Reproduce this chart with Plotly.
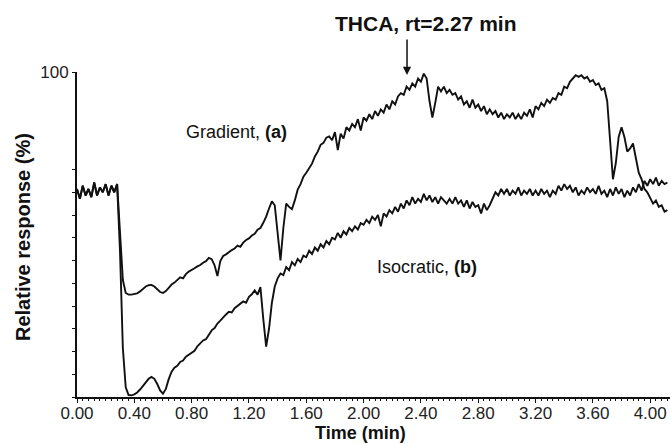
import numpy as np
import plotly.graph_objects as go

# Sampling step of the traces (min)
STEP = 0.02

# Gradient elution trace (a), relative response (%), one value every 0.02 min from 0.00
gradient_resp = [
    64, 61, 65, 62, 64, 61.5, 66, 62, 64.5, 63,                  # 0.00-0.18
    65.5, 62, 65, 63, 65.5, 50, 36, 32, 31.5, 31.5,              # 0.20-0.38
    31.6, 31.9, 32.5, 33.3, 34.0, 34.4, 34.5, 34.0, 33.1, 32.3,  # 0.40-0.58
    32.0, 32.6, 33.6, 34.6, 35.2, 35.9, 36.8, 36.5, 37.8, 38.6,  # 0.60-0.78
    39.0, 39.6, 40.2, 40.6, 41.3, 41.8, 42.8, 42.4, 40.5, 37.2,  # 0.80-0.98
    41.8, 43.4, 43.9, 44.6, 45.2, 45.7, 46.6, 46.2, 47.5, 48.3,  # 1.00-1.18
    48.8, 49.7, 50.2, 51.5, 52.0, 53.6, 55.5, 58.0, 60.2, 59.0,  # 1.20-1.38
    50.0, 42.0, 52.0, 59.5, 58.5, 57.8, 60.5, 63.8, 65.5, 67.8,  # 1.40-1.58
    69.0, 70.5, 71.8, 74.0, 75.5, 77.6, 78.2, 79.8, 80.2, 79.0,  # 1.60-1.78
    81.5, 76.0, 81.0, 79.5, 83.0, 82.0, 84.0, 83.0, 85.5, 82.0,  # 1.80-1.98
    86.0, 85.0, 87.0, 85.5, 88.0, 86.5, 88.5, 87.5, 90.0, 88.5,  # 2.00-2.18
    91.0, 90.0, 92.5, 93.5, 93.0, 95.5, 94.5, 96.5, 95.5, 98.0,  # 2.20-2.38
    97.0, 99.5, 98.0, 91.0, 86.0, 90.5, 95.5, 94.0, 95.5, 93.5,  # 2.40-2.58
    94.5, 93.0, 93.5, 91.5, 92.5, 90.0, 91.0, 89.0, 91.5, 89.0,  # 2.60-2.78
    90.0, 88.0, 89.5, 87.0, 88.5, 87.0, 88.0, 86.0, 87.5, 85.5,  # 2.80-2.98
    87.0, 86.0, 87.5, 85.5, 87.0, 85.5, 87.5, 86.5, 88.5, 86.0,  # 3.00-3.18
    89.5, 88.5, 90.5, 89.5, 91.5, 90.5, 92.0, 91.5, 93.5, 93.0,  # 3.20-3.38
    95.5, 95.0, 97.0, 98.0, 99.0, 98.5, 99.0, 98.0, 98.5, 97.0,  # 3.40-3.58
    97.5, 96.0, 96.5, 94.5, 95.0, 91.0, 80.0, 67.0, 72.0, 80.0,  # 3.60-3.78
    83.0, 80.0, 75.5, 76.5, 78.0, 73.0, 69.0, 67.0, 64.0, 63.0,  # 3.80-3.98
    61.0, 59.5, 60.5, 58.5, 59.0, 57.0, 57.5,                    # 4.00-4.12
]

# Isocratic elution trace (b), relative response (%), same sampling
isocratic_resp = [
    64, 61, 65, 62, 64, 61.5, 66, 62, 64.5, 63,                  # 0.00-0.18
    65.5, 62, 65, 63, 65.5, 45, 15, 3, 0.6, 0.5,                 # 0.20-0.38
    0.8, 1.4, 2.3, 3.4, 4.6, 5.6, 6.2, 5.6, 4.0, 2.0,            # 0.40-0.58
    1.0, 2.5, 5.5, 7.8, 9.0, 9.6, 10.8, 11.2, 12.4, 13.0,        # 0.60-0.78
    13.8, 14.2, 15.6, 16.5, 17.4, 17.8, 19.2, 20.5, 21.2, 22.6,  # 0.80-0.98
    23.5, 24.6, 25.4, 26.2, 26.0, 27.3, 28.0, 28.8, 29.4, 29.0,  # 1.00-1.18
    30.8, 31.6, 32.8, 31.5, 33.8, 24.0, 15.5, 21.0, 29.0, 34.0,  # 1.20-1.38
    36.5, 38.0, 37.5, 40.0, 39.0, 41.5, 40.5, 42.5, 41.5, 43.5,  # 1.40-1.58
    43.0, 45.0, 44.0, 46.0, 45.0, 47.0, 46.0, 48.0, 47.0, 49.0,  # 1.60-1.78
    48.5, 50.5, 49.0, 51.0, 50.0, 52.0, 51.0, 52.5, 51.5, 53.5,  # 1.80-1.98
    53.0, 54.5, 53.5, 55.5, 54.5, 56.0, 52.5, 56.5, 55.5, 57.5,  # 2.00-2.18
    56.5, 58.5, 57.0, 59.5, 58.0, 60.5, 59.0, 61.5, 59.5, 61.0,  # 2.20-2.38
    60.0, 62.5, 60.5, 62.0, 60.0, 61.5, 59.5, 61.5, 60.5, 59.5,  # 2.40-2.58
    61.0, 59.5, 61.5, 59.5, 60.5, 58.5, 60.5, 58.0, 60.0, 58.5,  # 2.60-2.78
    59.0, 56.5, 59.5, 57.5, 59.0, 61.0, 63.0, 62.0, 64.0, 62.5,  # 2.80-2.98
    64.0, 62.0, 63.5, 62.5, 64.5, 62.0, 63.5, 62.5, 64.0, 62.0,  # 3.00-3.18
    63.5, 62.0, 64.0, 62.5, 63.5, 61.5, 63.5, 62.5, 65.0, 63.5,  # 3.20-3.38
    65.5, 64.0, 65.0, 63.0, 64.5, 62.0, 63.5, 62.5, 64.5, 63.0,  # 3.40-3.58
    64.0, 62.5, 65.0, 62.5, 63.5, 61.5, 64.0, 62.0, 64.5, 62.5,  # 3.60-3.78
    64.0, 61.5, 63.5, 62.0, 64.5, 63.0, 65.5, 63.5, 66.5, 65.0,  # 3.80-3.98
    67.0, 65.5, 67.5, 65.0, 66.5, 65.5, 66.0,                    # 4.00-4.12
]

time_grad = np.round(np.arange(len(gradient_resp)) * STEP, 2)
time_iso = np.round(np.arange(len(isocratic_resp)) * STEP, 2)

x_tick_vals = [0.0, 0.4, 0.8, 1.2, 1.6, 2.0, 2.4, 2.8, 3.2, 3.6, 4.0]
x_tick_text = ["0.00", "0.40", "0.80", "1.20", "1.60", "2.00", "2.40", "2.80", "3.20", "3.60", "4.00"]
y_minor_ticks = [0, 7, 14, 21, 28, 35, 42, 49, 56, 63, 70]
y_tick_vals = [100]
y_tick_text = ["100"]

FONT = "Liberation Sans, Arial, Helvetica, sans-serif"
INK = "#111111"

fig = go.Figure()
fig.add_trace(go.Scatter(x=time_grad, y=gradient_resp, mode="lines",
                         line=dict(color=INK, width=1.9), name="Gradient (a)",
                         showlegend=False, hoverinfo="skip"))
fig.add_trace(go.Scatter(x=time_iso, y=isocratic_resp, mode="lines",
                         line=dict(color=INK, width=1.9), name="Isocratic (b)",
                         showlegend=False, hoverinfo="skip"))

L, R, T, B = 77, 0, 72, 47
W, H = 670, 444
px_per_min = 143.3
x_max = (W - L - R) / px_per_min

fig.update_layout(
    width=W, height=H,
    margin=dict(l=L, r=R, t=T, b=B),
    paper_bgcolor="white", plot_bgcolor="white",
    font=dict(family=FONT, color=INK),
    showlegend=False,
    xaxis=dict(
        range=[0, x_max], showgrid=False, zeroline=False,
        showline=True, linecolor=INK, linewidth=2,
        tickmode="array", tickvals=x_tick_vals, ticktext=x_tick_text,
        ticks="outside", ticklen=4, tickwidth=1, tickcolor=INK,
        ticklabelstandoff=-4,
        tickfont=dict(size=17, color="#222222", family=FONT),
        minor=dict(dtick=0.04, tick0=0, ticks="outside", ticklen=2, tickcolor=INK),
    ),
    yaxis=dict(
        range=[0, 100], showgrid=False, zeroline=False,
        showline=True, linecolor=INK, linewidth=2,
        tickmode="array", tickvals=y_tick_vals, ticktext=y_tick_text,
        ticks="outside", ticklen=3, tickwidth=1, tickcolor=INK,
        tickfont=dict(size=17, color="#222222", family=FONT),
        minor=dict(tickmode="array", tickvals=y_minor_ticks, ticks="outside",
                   ticklen=3, tickcolor=INK),
    ),
)

# Axis titles as annotations for exact placement
fig.add_annotation(text="<b>Time (min)</b>", xref="paper", yref="paper",
                   x=(360 - L) / (W - L - R), y=-(433 - (H - B)) / (H - T - B),
                   showarrow=False, borderpad=0,
                   font=dict(size=18, family=FONT, color=INK),
                   xanchor="center", yanchor="middle")
fig.add_annotation(text="<b>Relative response (%)</b>", xref="paper", yref="paper",
                   x=-(L - 23) / (W - L - R), y=(H - B - 237) / (H - T - B),
                   showarrow=False, textangle=-90,
                   font=dict(size=20, family=FONT, color=INK),
                   xanchor="center", yanchor="middle")

# Trace labels
fig.add_annotation(text="Gradient, <b>(a)</b>", x=1.11, y=81.5, showarrow=False,
                   font=dict(size=18, family=FONT, color=INK),
                   xanchor="center", yanchor="middle")
fig.add_annotation(text="Isocratic, <b>(b)</b>", x=2.44, y=40, showarrow=False,
                   font=dict(size=18, family=FONT, color=INK),
                   xanchor="center", yanchor="middle")

# THCA label and arrow
fig.add_annotation(text="<b>THCA, rt=2.27 min</b>", xref="x", yref="paper",
                   x=2.435, y=(H - B - 24) / (H - T - B), showarrow=False,
                   font=dict(size=21, family=FONT, color=INK),
                   xanchor="center", yanchor="middle")
fig.add_annotation(text="", x=2.303, y=99.1, ax=0, ay=-37,
                   showarrow=True, arrowhead=2, arrowsize=1.1, arrowwidth=1.5,
                   arrowcolor=INK)

fig.write_html("out.html", config={"displayModeBar": False},
               post_script="document.body.style.margin='0';")
